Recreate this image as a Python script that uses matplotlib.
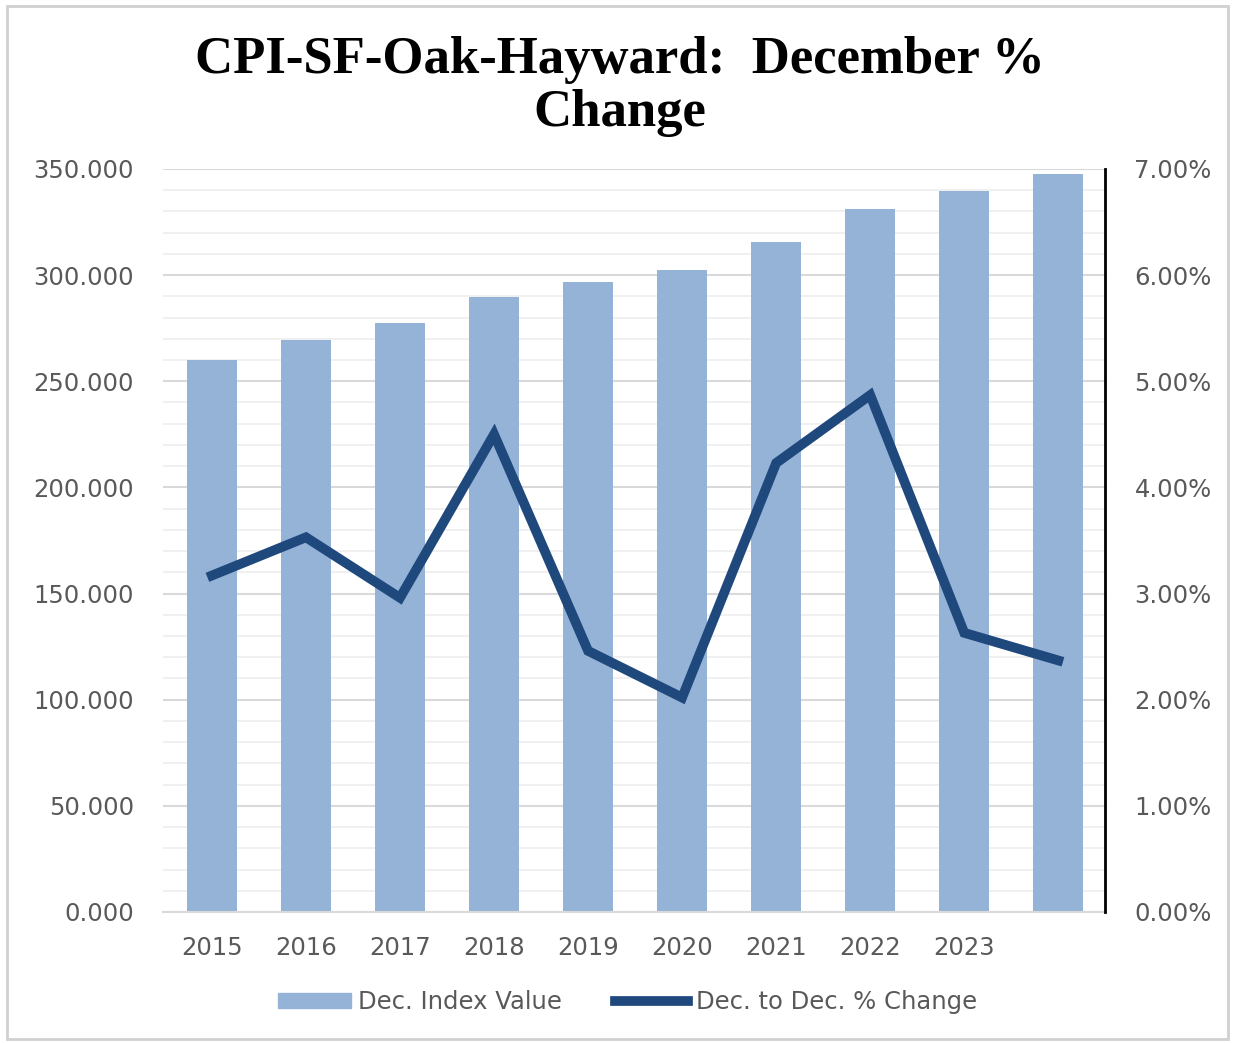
import numpy as np
import matplotlib.pyplot as plt
from matplotlib.ticker import MultipleLocator, FuncFormatter
from matplotlib.patches import Rectangle, Patch
from matplotlib.lines import Line2D

# data
years = ['2015', '2016', '2017', '2018', '2019', '2020', '2021', '2022', '2023', '']
index_value = [260.0, 269.4, 277.4, 289.7, 296.7, 302.4, 315.6, 331.1, 339.6, 347.6]
pct_change = [3.17, 3.53, 2.96, 4.50, 2.46, 2.02, 4.23, 4.87, 2.63, 2.37]

bar_col = '#95b3d7'
line_col = '#1f497d'
txt_col = '#595959'

fig = plt.figure(figsize=(12.35, 10.43), dpi=100)
fig.patches.append(Rectangle((0.006, 0.004), 0.988, 0.99, transform=fig.transFigure,
                             fill=False, edgecolor='#d0d0d0', linewidth=2))

ax = fig.add_axes([0.132, 0.1256, 0.763, 0.7124])
x = np.arange(len(years))
ax.bar(x, index_value, width=0.53, color=bar_col, zorder=2)
ax.set_xlim(-0.52, 9.5)
ax.set_ylim(0, 350)
ax.yaxis.set_major_locator(MultipleLocator(50))
ax.yaxis.set_minor_locator(MultipleLocator(10))
ax.yaxis.set_major_formatter(FuncFormatter(lambda v, p: '{:.3f}'.format(v)))
ax.grid(axis='y', which='major', color='#d9d9d9', linewidth=1.5, zorder=0)
ax.grid(axis='y', which='minor', color='#eeeeee', linewidth=1.2, zorder=0)
ax.set_xticks(x)
ax.set_xticklabels(years)
ax.tick_params(axis='both', which='both', length=0, colors=txt_col, labelsize=17.5)
ax.tick_params(axis='x', pad=17)
ax.tick_params(axis='y', pad=21)
for s in ['top', 'left', 'right']:
    ax.spines[s].set_visible(False)
ax.spines['bottom'].set_color('#d9d9d9')
ax.spines['bottom'].set_linewidth(1.5)
ax.set_axisbelow(True)

ax2 = ax.twinx()
ax2.plot(x, pct_change, color=line_col, linewidth=7, solid_joinstyle='miter', zorder=3)
ax2.set_ylim(0, 7)
ax2.yaxis.set_major_locator(MultipleLocator(1))
ax2.yaxis.set_major_formatter(FuncFormatter(lambda v, p: '{:.2f}%'.format(v)))
ax2.tick_params(axis='y', length=0, colors=txt_col, labelsize=17.5, pad=21)
for s in ['top', 'left', 'bottom']:
    ax2.spines[s].set_visible(False)
ax2.spines['right'].set_color('black')
ax2.spines['right'].set_linewidth(2)

fig.text(0.502, 0.917, 'CPI-SF-Oak-Hayward:  December %\nChange', ha='center', va='center',
         fontsize=38, fontweight='bold', family='Liberation Serif', linespacing=1.12)

handles = [Patch(color=bar_col, label='Dec. Index Value'),
           Line2D([0], [0], color=line_col, linewidth=7, label='Dec. to Dec. % Change')]
leg = fig.legend(handles=handles, loc='center', bbox_to_anchor=(0.508, 0.039), ncol=2,
                 frameon=False, fontsize=17.5, handlelength=3.0, handleheight=0.55,
                 handletextpad=0.3, columnspacing=2.2)
for t in leg.get_texts():
    t.set_color(txt_col)

fig.savefig('out.png', dpi=100)
